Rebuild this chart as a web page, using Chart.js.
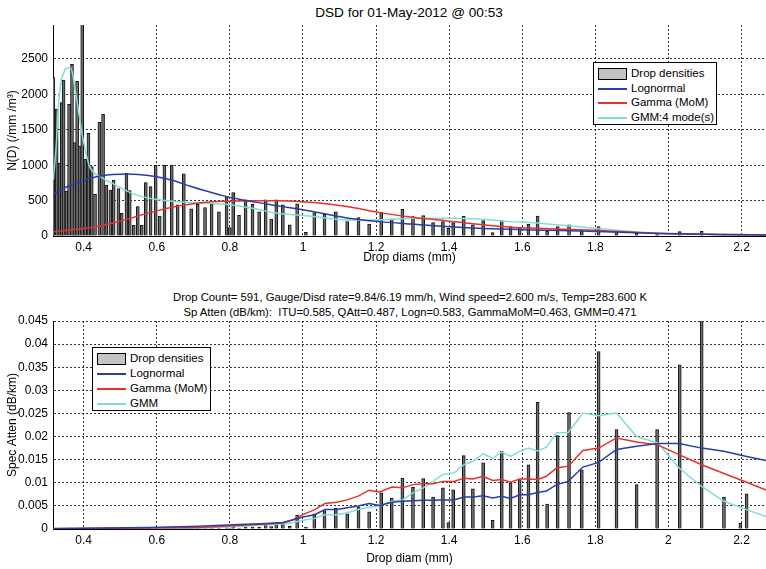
<!DOCTYPE html>
<html>
<head>
<meta charset="utf-8">
<script src="https://cdn.jsdelivr.net/npm/chart.js@4.4.0/dist/chart.umd.min.js"></script>
<style>
  body { margin: 0; background: #fff; font-family: "Liberation Sans", Arial, sans-serif; color: #000; }
  #fig { position: relative; width: 766px; height: 569px; overflow: hidden; background: #fff; }
  .pane { position: absolute; left: 0; width: 766px; }
  .txt { position: absolute; white-space: nowrap; transform: translate(-50%, -50%); }
  .leg { position: absolute; border: 1px solid #000; background: #fff; box-sizing: border-box; font-size: 11.5px; }
  .leg .row { position: absolute; left: 4px; height: 14px; line-height: 14px; white-space: nowrap; }
  .leg .sw { display: inline-block; width: 29px; height: 2px; vertical-align: middle; margin-right: 4px; }
  .leg .patch { display: inline-block; width: 27px; height: 10px; border: 1px solid #000; background: #c4c4c4; vertical-align: middle; margin-right: 4px; }
</style>
</head>
<body>
<div id="fig">
  <div class="txt" style="left:409px;top:12px;font-size:13.6px">DSD for 01-May-2012 @ 00:53</div>
  <div class="pane" style="top:0;height:266px"><canvas id="topChart"></canvas></div>
  <div class="txt" style="left:410px;top:297px;font-size:11.3px">Drop Count= 591, Gauge/Disd rate=9.84/6.19 mm/h, Wind speed=2.600 m/s, Temp=283.600 K</div>
  <div class="txt" style="left:410px;top:312px;font-size:11.3px">Sp Atten (dB/km):&nbsp; ITU=0.585, QAtt=0.487, Logn=0.583, GammaMoM=0.463, GMM=0.471</div>
  <div class="pane" style="top:285px;height:284px"><canvas id="botChart"></canvas></div>

  <div class="leg" style="left:593px;top:62px;width:124px;height:63px">
    <div class="row" style="top:3px"><span class="patch"></span>Drop densities</div>
    <div class="row" style="top:18px"><span class="sw" style="background:#2b3ca8"></span>Lognormal</div>
    <div class="row" style="top:32px"><span class="sw" style="background:#e8302a"></span>Gamma (MoM)</div>
    <div class="row" style="top:47px"><span class="sw" style="background:#82ddd6"></span>GMM:4 mode(s)</div>
  </div>
  <div class="leg" style="left:92px;top:347px;width:119px;height:64px">
    <div class="row" style="top:3px"><span class="patch"></span>Drop densities</div>
    <div class="row" style="top:18px"><span class="sw" style="background:#2b3ca8"></span>Lognormal</div>
    <div class="row" style="top:33px"><span class="sw" style="background:#e8302a"></span>Gamma (MoM)</div>
    <div class="row" style="top:48px"><span class="sw" style="background:#82ddd6"></span>GMM</div>
  </div>
</div>
<script>
// ---- data ----
const X_MIN = 0.316, X_MAX = 2.267;
const xTicks = [0.4, 0.6, 0.8, 1, 1.2, 1.4, 1.6, 1.8, 2, 2.2];
const nTicks = [0, 500, 1000, 1500, 2000, 2500];
const attTicks = [0, 0.005, 0.01, 0.015, 0.02, 0.025, 0.03, 0.035, 0.04, 0.045];

// disdrometer bins (mm)
const binD = [0.317, 0.326, 0.334, 0.340, 0.345, 0.353, 0.360, 0.368, 0.375, 0.382,
  0.389, 0.396, 0.404, 0.413, 0.422, 0.431, 0.443, 0.453, 0.462, 0.473,
  0.482, 0.495, 0.504, 0.517, 0.526, 0.537, 0.548, 0.559, 0.570, 0.583,
  0.597, 0.608, 0.621, 0.641, 0.657, 0.674, 0.694, 0.712, 0.732, 0.750,
  0.770, 0.791, 0.800, 0.809, 0.825, 0.843, 0.862, 0.880, 0.898, 0.913,
  0.927, 0.945, 0.964, 0.984, 1.008, 1.031, 1.059, 1.090, 1.121, 1.152,
  1.181, 1.214, 1.243, 1.272, 1.301, 1.329, 1.356, 1.383, 1.398, 1.411,
  1.440, 1.465, 1.493, 1.519, 1.544, 1.568, 1.593, 1.617, 1.642, 1.668,
  1.697, 1.728, 1.763, 1.809, 1.858, 1.913, 1.969, 2.031, 2.091, 2.152,
  2.197, 2.214];
// N(D) per bin (/mm/m^3)
const binN = [2236, 1794, 1026, 1883, 2203, 636, 1860, 2425, 1318, 2185,
  1271, 3000, 1083, 1450, 980, 590, 1605, 1718, 720, 650,
  790, 669, 320, 885, 640, 155, 414, 155, 753, 697,
  998, 282, 1000, 1000, 439, 878, 383, 448, 402, 448,
  340, 560, 118, 613, 292, 510, 448, 340, 510, 240,
  510, 440, 156, 453, 52, 330, 307, 340, 203, 260,
  170, 330, 240, 378, 274, 288, 189, 203, 108, 189,
  283, 156, 217, 47, 217, 132, 123, 165, 283, 71,
  132, 156, 75, 132, 47, 38, 38, 61, 66, 10,
  2, 10];
// specific attenuation per bin (dB/km)
const binAtt = [0.00003, 0.00002, 0.00001, 0.00002, 0.00003, 0.00001, 0.00003, 0.00004, 0.00002, 0.00004,
  0.00002, 0.00006, 0.00004, 0.00006, 0.00004, 0.00003, 0.00009, 0.0001, 0.00005, 0.00005,
  0.00006, 0.00006, 0.00003, 0.0001, 0.00008, 0.00002, 0.00006, 0.00002, 0.0001, 0.0001,
  0.00015, 0.00005, 0.0002, 0.00022, 0.00012, 0.00026, 0.00013, 0.00017, 0.00017, 0.0002,
  0.00017, 0.0003, 0.00007, 0.00035, 0.0002, 0.0004, 0.0004, 0.00035, 0.0008, 0.0005,
  0.0012, 0.0013, 0.0006, 0.0030, 0.0004, 0.0033, 0.0040, 0.0045, 0.0033, 0.0048,
  0.0037, 0.0078, 0.0067, 0.0110, 0.0090, 0.0109, 0.0069, 0.0089, 0.0014, 0.0085,
  0.0159, 0.0087, 0.0143, 0.0019, 0.0168, 0.0100, 0.0107, 0.0139, 0.0274, 0.0054,
  0.0202, 0.0252, 0.0128, 0.0384, 0.0215, 0.0096, 0.0215, 0.0355, 0.0460, 0.0069,
  0.0012, 0.0076];

// fitted DSD curves (top panel)
const fitD = [0.317, 0.325, 0.33, 0.337, 0.345, 0.353, 0.362, 0.37, 0.375, 0.382,
  0.39, 0.397, 0.405, 0.416, 0.435, 0.445, 0.463, 0.48, 0.52, 0.55,
  0.6, 0.645, 0.69, 0.735, 0.78, 0.825, 0.875, 0.92, 0.965, 1.03,
  1.12, 1.21, 1.3, 1.39, 1.48, 1.57, 1.62, 1.78, 1.96, 2.14, 2.27];
const lognormN = [590, 615, 630, 650, 672, 692, 710, 725, 735, 750,
  765, 778, 792, 812, 838, 848, 862, 870, 877, 870,
  838, 785, 705, 635, 570, 520, 475, 435, 398, 342,
  255, 203, 168, 135, 110, 95, 86, 68, 40, 22, 14];
const gammaN = [61, 64, 67, 71, 76, 80, 85, 89, 92, 95,
  99, 103, 108, 116, 132, 142, 163, 185, 238, 285,
  355, 410, 450, 478, 490, 495, 497, 497, 493, 472,
  415, 330, 264, 217, 165, 123, 112, 85, 40, 22, 14];
const gmmN = [793, 1300, 1784, 2150, 2300, 2370, 2375, 2290, 2110, 1900,
  1620, 1400, 1200, 980, 864, 840, 780, 740, 630, 570,
  515, 490, 472, 463, 453, 425, 378, 330, 305, 274,
  227, 227, 250, 250, 240, 203, 189, 118, 40, 22, 14];

// attenuation curves (bottom panel)
const attD = [0.317, 0.581, 0.717, 0.809, 0.900, 0.945, 0.973, 1.000, 1.032, 1.060,
  1.092, 1.121, 1.151, 1.181, 1.210, 1.243, 1.272, 1.301, 1.329, 1.356,
  1.383, 1.413, 1.440, 1.465, 1.493, 1.519, 1.544, 1.568, 1.593, 1.617,
  1.642, 1.666, 1.694, 1.726, 1.766, 1.809, 1.858, 1.913, 1.971, 2.029,
  2.091, 2.152, 2.214, 2.267];
const lognormAtt = [0.0001, 0.0003, 0.0006, 0.0009, 0.0012, 0.0014, 0.002, 0.0026, 0.0031, 0.0042,
  0.0042, 0.0046, 0.005, 0.0055, 0.0051, 0.0058, 0.006, 0.0061, 0.0062, 0.0062,
  0.0063, 0.0063, 0.0069, 0.0069, 0.0072, 0.0067, 0.0071, 0.0066, 0.0074, 0.0074,
  0.0079, 0.0082, 0.0096, 0.0103, 0.0134, 0.0144, 0.0172, 0.0179, 0.0185, 0.0185,
  0.0175, 0.0168, 0.0157, 0.0148];
const gammaAtt = [0.00005, 0.0002, 0.0003, 0.0007, 0.0011, 0.0013, 0.002, 0.0031, 0.0042, 0.0055,
  0.0058, 0.0063, 0.0071, 0.0084, 0.008, 0.0091, 0.0089, 0.0096, 0.0098, 0.0098,
  0.0103, 0.0103, 0.011, 0.0108, 0.0114, 0.0105, 0.0107, 0.0101, 0.0108, 0.0108,
  0.0107, 0.0114, 0.0132, 0.0136, 0.017, 0.0175, 0.0197, 0.0188, 0.0182, 0.0161,
  0.0139, 0.012, 0.0101, 0.0084];
const gmmAtt = [0.00002, 0.0001, 0.0002, 0.0005, 0.0009, 0.0011, 0.0014, 0.0019, 0.0023, 0.0031,
  0.0031, 0.0035, 0.0042, 0.0047, 0.005, 0.006, 0.0063, 0.0078, 0.0089, 0.0103,
  0.0118, 0.0121, 0.0139, 0.0146, 0.0163, 0.0153, 0.0167, 0.0157, 0.0168, 0.0175,
  0.0169, 0.0177, 0.0208, 0.0209, 0.0251, 0.0245, 0.0251, 0.02, 0.0186, 0.0132,
  0.0092, 0.006, 0.0042, 0.0027];

// ---- chart setup ----
const FONT = '"Liberation Sans", Arial, sans-serif';
Chart.defaults.font.family = FONT;
Chart.defaults.color = '#000';

const BLUE = '#2b3ca8', RED = '#e8302a', CYAN = '#82ddd6';
const xy = (xs, ys) => xs.map((x, i) => ({ x: x, y: ys[i] }));
const fmt = v => String(+Number(v).toFixed(3));

function xScale(title, height, titlePad) {
  return {
    type: 'linear', min: X_MIN, max: X_MAX, offset: false,
    afterBuildTicks: s => { s.ticks = xTicks.map(v => ({ value: v })); },
    afterFit: s => { s.height = height; },
    grid: { color: '#000', lineWidth: 0.8, drawTicks: false, offset: false },
    border: { color: '#000', width: 1, dash: [2, 2] },
    ticks: { font: { size: 12 }, padding: 4, maxRotation: 0, autoSkip: false, callback: fmt },
    title: { display: true, text: title, font: { size: 12 }, padding: { top: 0, bottom: titlePad } }
  };
}

function yScale(title, max, ticks) {
  return {
    type: 'linear', min: 0, max: max,
    afterBuildTicks: s => { s.ticks = ticks.map(v => ({ value: v })); },
    afterFit: s => { s.width = 53; },
    grid: { color: '#000', lineWidth: 0.8, drawTicks: false },
    border: { color: '#000', width: 1, dash: [2, 2] },
    ticks: { font: { size: 12 }, padding: 5, autoSkip: false, callback: fmt },
    title: { display: true, text: title, font: { size: 12 }, padding: { top: 5, bottom: 0 } }
  };
}

function lineSet(label, data, color, order, smooth) {
  return {
    type: 'line', label: label, data: data, borderColor: color, borderWidth: 1.5,
    pointRadius: 0, fill: false, order: order,
    cubicInterpolationMode: smooth ? 'monotone' : 'default', tension: 0
  };
}

function barSet(data) {
  return {
    type: 'bar', label: 'Drop densities', data: data,
    backgroundColor: '#6e6e6e', borderColor: '#111', borderWidth: 1,
    barThickness: 3, order: 10
  };
}

const common = {
  responsive: true, maintainAspectRatio: false, animation: false,
  plugins: { legend: { display: false }, tooltip: { enabled: false }, title: { display: false } }
};

new Chart(document.getElementById('topChart'), {
  type: 'bar',
  data: {
    datasets: [
      lineSet('Lognormal', xy(fitD, lognormN), BLUE, 1, true),
      lineSet('Gamma (MoM)', xy(fitD, gammaN), RED, 2, true),
      lineSet('GMM:4 mode(s)', xy(fitD, gmmN), CYAN, 3, true),
      barSet(xy(binD, binN))
    ]
  },
  options: Object.assign({}, common, {
    layout: { padding: { top: 25, left: 0, right: 0, bottom: 0 } },
    scales: {
      x: xScale('Drop diams (mm)', 30, 1),
      y: yScale('N(D) (/mm /m³)', 2980, nTicks)
    }
  })
});

new Chart(document.getElementById('botChart'), {
  type: 'bar',
  data: {
    datasets: [
      lineSet('Lognormal', xy(attD, lognormAtt), BLUE, 1, false),
      lineSet('Gamma (MoM)', xy(attD, gammaAtt), RED, 2, false),
      lineSet('GMM', xy(attD, gmmAtt), CYAN, 3, false),
      barSet(xy(binD, binAtt))
    ]
  },
  options: Object.assign({}, common, {
    layout: { padding: { top: 36, left: 0, right: 0, bottom: 0 } },
    scales: {
      x: xScale('Drop diam (mm)', 40, 3),
      y: yScale('Spec Atten (dB/km)', 0.045, attTicks)
    }
  })
});
</script>
</body>
</html>
